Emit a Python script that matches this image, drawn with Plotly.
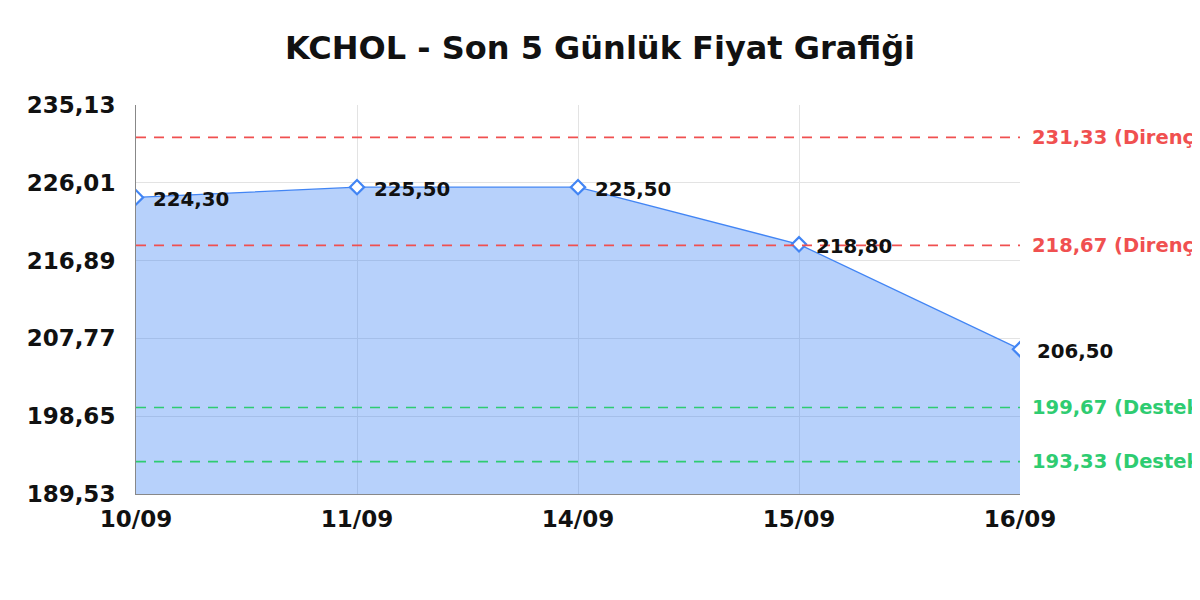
import plotly.graph_objects as go

dates = ["10/09", "11/09", "14/09", "15/09", "16/09"]
prices = [224.30, 225.50, 225.50, 218.80, 206.50]
price_labels = ["224,30", "225,50", "225,50", "218,80", "206,50"]
y_ticks = [189.53, 198.65, 207.77, 216.89, 226.01, 235.13]
y_tick_labels = ["189,53", "198,65", "207,77", "216,89", "226,01", "235,13"]
resistance = [231.33, 218.67]
resistance_labels = ["231,33 (Direnç)", "218,67 (Direnç)"]
support = [199.67, 193.33]
support_labels = ["199,67 (Destek)", "193,33 (Destek)"]

FONT = "DejaVu Sans"
BLUE = "#4285f4"
RED = "#f05050"
GREEN = "#2ecc71"

fig = go.Figure()
fig.add_trace(go.Scatter(
    x=dates, y=prices, mode="lines+markers",
    line=dict(color=BLUE, width=1.3),
    fill="tozeroy", fillcolor="rgba(66,133,244,0.38)",
    marker=dict(symbol="diamond", size=11, color="white", line=dict(width=2.2, color=BLUE)),
    hoverinfo="skip", showlegend=False,
))

for d, p, lab in zip(dates, prices, price_labels):
    fig.add_annotation(x=d, y=p, xref="x", yref="y", text="<b>%s</b>" % lab,
                       showarrow=False, xanchor="left", yanchor="middle",
                       xshift=15, yshift=-2,
                       font=dict(family=FONT, size=19.8, color="#111111"))

for val, lab in zip(resistance, resistance_labels):
    fig.add_shape(type="line", xref="paper", x0=0, x1=1, yref="y", y0=val, y1=val,
                  line=dict(color=RED, width=1.6, dash="10px,8px"), layer="above")
    fig.add_annotation(x=1, y=val, xref="paper", yref="y", text="<b>%s</b>" % lab,
                       showarrow=False, xanchor="left", yanchor="middle", xshift=10,
                       font=dict(family=FONT, size=19.5, color=RED))

for val, lab in zip(support, support_labels):
    fig.add_shape(type="line", xref="paper", x0=0, x1=1, yref="y", y0=val, y1=val,
                  line=dict(color=GREEN, width=1.6, dash="10px,8px"), layer="above")
    fig.add_annotation(x=1, y=val, xref="paper", yref="y", text="<b>%s</b>" % lab,
                       showarrow=False, xanchor="left", yanchor="middle", xshift=10,
                       font=dict(family=FONT, size=19.5, color=GREEN))

fig.update_layout(
    width=1200, height=600,
    margin=dict(l=128, r=188, t=97, b=114),
    paper_bgcolor="white", plot_bgcolor="white",
    title=dict(text="<b>KCHOL - Son 5 Günlük Fiyat Grafiği</b>", x=0.4933, xref="container",
               xanchor="center", y=0.933, yref="container", yanchor="middle",
               font=dict(family=FONT, size=32, color="#111111")),
    font=dict(family=FONT),
    xaxis=dict(type="category", range=[0, len(dates) - 1], showgrid=True,
               gridcolor="#e3e3e3", gridwidth=1, showline=True, linecolor="#888888",
               linewidth=1, ticks="outside", ticklen=4, tickcolor="rgba(0,0,0,0)",
               tickfont=dict(family=FONT, size=23, color="#111111"),
               tickprefix="<b>", ticksuffix="</b>", zeroline=False, fixedrange=True),
    yaxis=dict(range=[y_ticks[0], y_ticks[-1]], tickmode="array", tickvals=y_ticks,
               ticktext=["<b>%s</b>" % t for t in y_tick_labels], showgrid=True,
               gridcolor="#e3e3e3", gridwidth=1, showline=True, linecolor="#888888",
               linewidth=1, ticks="outside", ticklen=15, tickcolor="rgba(0,0,0,0)",
               tickfont=dict(family=FONT, size=23, color="#111111"),
               zeroline=False, fixedrange=True),
)

fig.write_html("out.html")
